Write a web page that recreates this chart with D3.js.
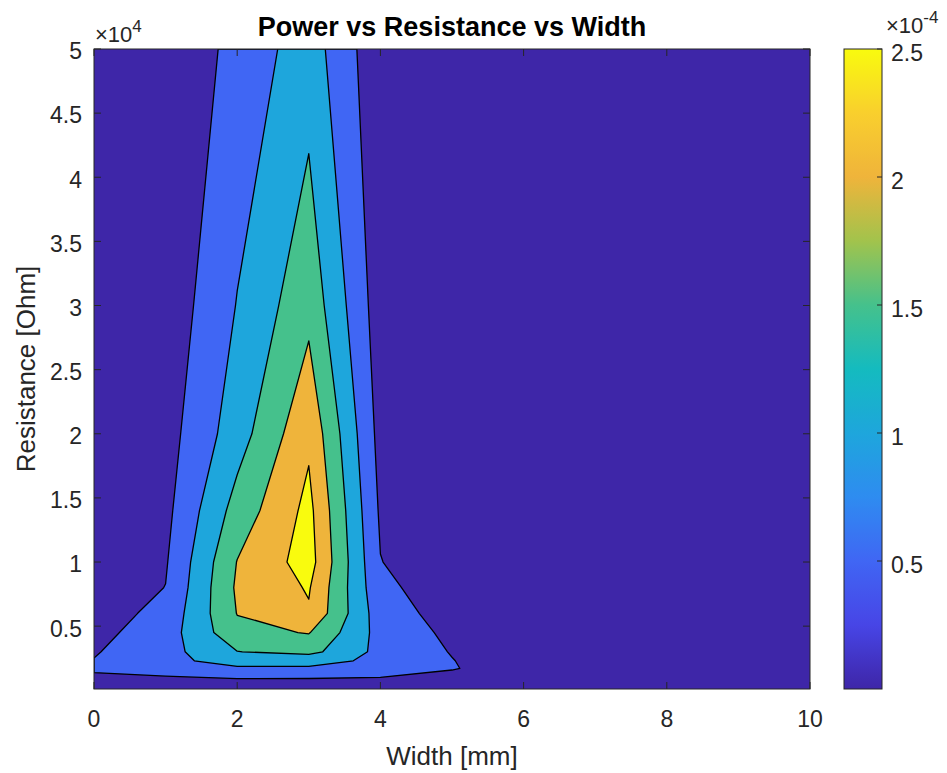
<!DOCTYPE html>
<meta charset="utf-8">
<style>
body { margin: 0; background: #fff; }
text { font-family: Arial, "Liberation Sans", sans-serif; fill: #262626; }
.title { font-size: 27px; font-weight: bold; fill: #000; }
.label { font-size: 26px; }
.tick { font-size: 23px; }
.expo { font-size: 22px; }
.box { fill: none; stroke: #262626; stroke-width: 1px; }
.tickmark { stroke: #262626; stroke-width: 1px; }
.contour { stroke: #000; stroke-width: 1.3px; stroke-linejoin: round; }
</style>
<body>
<script src="https://d3js.org/d3.v7.min.js"></script>
<script>

// width [mm] (grid columns) and resistance [Ohm] (grid rows)
var xVals = [0, 1, 2, 3, 4, 5, 6, 7, 8, 9, 10];
var yVals = [100, 1700, 2300, 3000, 4500, 6000, 8000, 10000, 14000, 20000, 30000, 50000];

// power [x1e-4], one array per width, values along yVals
var power = [
  [0.01, 0.52, 0.43, 0.388, 0.299, 0.225, 0.17, 0.13, 0.10, 0.07, 0.045, 0.02],
  [0.01, 0.66, 0.772, 0.68, 0.631, 0.54, 0.424, 0.378, 0.306, 0.247, 0.14, 0.05],
  [0.02, 0.80, 0.924, 1.24, 1.55, 1.68, 1.73, 1.68, 1.42, 1.056, 0.85, 0.55],
  [0.02, 0.795, 0.93, 1.38, 1.688, 2.04, 2.118, 2.26, 2.2, 2.0, 1.54, 1.05],
  [0.02, 0.72, 0.774, 0.713, 0.68, 0.603, 0.512, 0.428, 0.358, 0.274, 0.19, 0.107],
  [0.01, 0.45, 0.43, 0.397, 0.33, 0.26, 0.19, 0.13, 0.09, 0.06, 0.04, 0.02],
  [0.005, 0.15, 0.145, 0.14, 0.12, 0.10, 0.08, 0.06, 0.045, 0.03, 0.02, 0.012],
  [0.003, 0.08, 0.078, 0.075, 0.065, 0.055, 0.045, 0.035, 0.026, 0.018, 0.012, 0.007],
  [0.002, 0.05, 0.048, 0.046, 0.04, 0.034, 0.028, 0.022, 0.016, 0.011, 0.008, 0.004],
  [0.0015, 0.033, 0.032, 0.03, 0.026, 0.022, 0.018, 0.014, 0.011, 0.008, 0.005, 0.003],
  [0.001, 0.023, 0.022, 0.021, 0.018, 0.015, 0.012, 0.01, 0.008, 0.006, 0.004, 0.002]
];

// contour levels [x1e-4]
var levels = [0.417, 0.833, 1.25, 1.667, 2.083];

// ticks
var xTicks = [0, 2, 4, 6, 8, 10];
var yTicks = [5000, 10000, 15000, 20000, 25000, 30000, 35000, 40000, 45000, 50000];
var yTickLabels = ["0.5", "1", "1.5", "2", "2.5", "3", "3.5", "4", "4.5", "5"];
var cbarLimits = [0, 2.5];
var cbarTicks = [0.5, 1, 1.5, 2, 2.5];
var cbarTickLabels = ["0.5", "1", "1.5", "2", "2.5"];

// parula-like colormap stops
var parulaStops = [
  [0.00, "#3e26a8"], [0.10, "#4745e6"], [0.20, "#4066f4"], [0.30, "#2e8cf0"],
  [0.40, "#1ea6dc"], [0.50, "#14bbbf"], [0.60, "#45c18c"], [0.70, "#a2c34c"],
  [0.80, "#efb43b"], [0.90, "#f9cf2d"], [1.00, "#f9fb0e"]
];

var W = 947, H = 773;
var plot = {left: 94, right: 810, top: 49, bottom: 689};
var cbar = {left: 844, right: 882};

var parula = d3.scaleLinear()
    .domain(parulaStops.map(function(s) { return s[0]; }))
    .range(parulaStops.map(function(s) { return s[1]; }))
    .interpolate(d3.interpolateRgb);

var svg = d3.select("body").append("svg")
    .attr("width", W)
    .attr("height", H);

var x = d3.scaleLinear().domain([xVals[0], xVals[xVals.length - 1]]).range([plot.left, plot.right]);
var y = d3.scaleLinear().domain([yVals[0], yVals[yVals.length - 1]]).range([plot.bottom, plot.top]);
var cy = d3.scaleLinear().domain(cbarLimits).range([plot.bottom, plot.top]);

// grid for d3.contours (row-major, row = resistance)
var n = xVals.length, m = yVals.length;
var grid = new Array(n * m);
for (var j = 0; j < m; j++) {
  for (var i = 0; i < n; i++) grid[i + j * n] = power[i][j];
}
var contours = d3.contours().size([n, m]).thresholds(levels)(grid);

// map contour grid coords (cell centres at k+0.5) to data values
function gridTo(vals, g) {
  var t = Math.max(0, Math.min(vals.length - 1, g - 0.5));
  var k = Math.min(Math.floor(t), vals.length - 2);
  return vals[k] + (t - k) * (vals[k + 1] - vals[k]);
}
var path = d3.geoPath(d3.geoTransform({
  point: function(px, py) {
    this.stream.point(x(gridTo(xVals, px)), y(gridTo(yVals, py)));
  }
}));

svg.append("clipPath").attr("id", "plotclip")
  .append("rect")
    .attr("x", plot.left).attr("y", plot.top)
    .attr("width", plot.right - plot.left)
    .attr("height", plot.bottom - plot.top);

var area = svg.append("g").attr("clip-path", "url(#plotclip)");

// lowest band
area.append("rect")
    .attr("x", plot.left).attr("y", plot.top)
    .attr("width", plot.right - plot.left)
    .attr("height", plot.bottom - plot.top)
    .attr("fill", parula(0));

area.selectAll("path.contour")
    .data(contours)
  .enter().append("path")
    .attr("class", "contour")
    .attr("d", path)
    .attr("fill", function(d, k) { return parula((k + 1) / levels.length); });

// axes box and inward ticks
var tl = 7;
var axes = svg.append("g");
axes.selectAll("line.xb").data(xTicks).enter().append("line")
    .attr("class", "tickmark")
    .attr("x1", function(d) { return x(d); }).attr("x2", function(d) { return x(d); })
    .attr("y1", plot.bottom).attr("y2", plot.bottom - tl);
axes.selectAll("line.xt").data(xTicks).enter().append("line")
    .attr("class", "tickmark")
    .attr("x1", function(d) { return x(d); }).attr("x2", function(d) { return x(d); })
    .attr("y1", plot.top).attr("y2", plot.top + tl);
axes.selectAll("line.yl").data(yTicks).enter().append("line")
    .attr("class", "tickmark")
    .attr("y1", function(d) { return y(d); }).attr("y2", function(d) { return y(d); })
    .attr("x1", plot.left).attr("x2", plot.left + tl);
axes.selectAll("line.yr").data(yTicks).enter().append("line")
    .attr("class", "tickmark")
    .attr("y1", function(d) { return y(d); }).attr("y2", function(d) { return y(d); })
    .attr("x1", plot.right).attr("x2", plot.right - tl);
axes.append("rect").attr("class", "box")
    .attr("x", plot.left).attr("y", plot.top)
    .attr("width", plot.right - plot.left)
    .attr("height", plot.bottom - plot.top);

// tick labels
axes.selectAll("text.xl").data(xTicks).enter().append("text")
    .attr("class", "tick")
    .attr("x", function(d) { return x(d); })
    .attr("y", plot.bottom + 38)
    .attr("text-anchor", "middle")
    .text(function(d) { return d; });
axes.selectAll("text.yl").data(yTicks).enter().append("text")
    .attr("class", "tick")
    .attr("x", plot.left - 12)
    .attr("y", function(d) { return y(d); })
    .attr("dy", "0.45em")
    .attr("text-anchor", "end")
    .text(function(d, k) { return yTickLabels[k]; });

// x10^4 multiplier
var e1 = svg.append("text").attr("class", "expo").attr("x", plot.left + 1).attr("y", 42);
e1.append("tspan").text("\u00d710");
e1.append("tspan").attr("dy", -10).style("font-size", "17px").text("4");

// axis labels and title
svg.append("text").attr("class", "label")
    .attr("x", (plot.left + plot.right) / 2).attr("y", 765)
    .attr("text-anchor", "middle")
    .text("Width [mm]");
svg.append("text").attr("class", "label")
    .attr("transform", "translate(35," + ((plot.top + plot.bottom) / 2) + ") rotate(-90)")
    .attr("text-anchor", "middle")
    .text("Resistance [Ohm]");
svg.append("text").attr("class", "title")
    .attr("x", (plot.left + plot.right) / 2).attr("y", 36)
    .attr("text-anchor", "middle")
    .text("Power vs Resistance vs Width");

// colorbar
var grad = svg.append("defs").append("linearGradient")
    .attr("id", "cgrad")
    .attr("x1", 0).attr("y1", 1).attr("x2", 0).attr("y2", 0);
d3.range(0, 1.0001, 0.02).forEach(function(t) {
  grad.append("stop").attr("offset", t).attr("stop-color", parula(t));
});
svg.append("rect")
    .attr("x", cbar.left).attr("y", plot.top)
    .attr("width", cbar.right - cbar.left)
    .attr("height", plot.bottom - plot.top)
    .attr("fill", "url(#cgrad)");
svg.selectAll("line.cb").data(cbarTicks).enter().append("line")
    .attr("class", "tickmark")
    .attr("x1", cbar.right - 5).attr("x2", cbar.right)
    .attr("y1", function(d) { return cy(d); }).attr("y2", function(d) { return cy(d); });
svg.append("rect").attr("class", "box")
    .attr("x", cbar.left).attr("y", plot.top)
    .attr("width", cbar.right - cbar.left)
    .attr("height", plot.bottom - plot.top);
svg.selectAll("text.cb").data(cbarTicks).enter().append("text")
    .attr("class", "tick")
    .attr("x", cbar.right + 9)
    .attr("y", function(d) { return cy(d); })
    .attr("dy", "0.5em")
    .text(function(d, k) { return cbarTickLabels[k]; });

var e2 = svg.append("text").attr("class", "expo").attr("x", 886).attr("y", 33);
e2.append("tspan").text("\u00d710");
e2.append("tspan").attr("dy", -10).style("font-size", "17px").text("-4");

</script>
</body>
